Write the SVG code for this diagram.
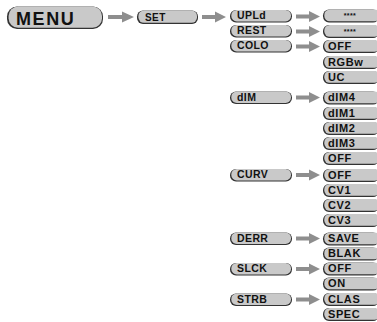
<svg xmlns="http://www.w3.org/2000/svg" xmlns:xlink="http://www.w3.org/1999/xlink" width="377" height="322" viewBox="0 0 377 322">
<style>
.sh{fill:#333}
.bx{fill:#c9c9c9}
.t{font-family:"Liberation Sans",Arial,sans-serif;font-weight:bold;fill:#111;font-size:10.5px;letter-spacing:0.4px}
.r{font-size:11px;letter-spacing:0.6px}
.ar{fill:#8e8e8e}
</style>
<defs>
<path id="arr" class="ar" d="M0,-2 H13 V-5.5 L24,0 L13,5.5 V2 H0 Z"/>
<g id="lb"><rect class="sh" x="0" y="-1" width="62" height="12.5" rx="6"/><rect class="bx" x="1.3" y="-1" width="59.7" height="11.4" rx="5.5"/></g>
<g id="rb"><rect class="sh" x="0" y="-1" width="56" height="13" rx="6"/><rect class="bx" x="1.3" y="-1" width="56" height="11.8" rx="5.5"/></g>
</defs>
<rect width="377" height="322" fill="#fff"/>
<g id="connectors">
<path class="ar" d="M108,15 H122 V11.5 L134,17 L122,22.5 V19 H108 Z"/>
<use href="#arr" x="202" y="17"/>
<use href="#arr" x="296" y="16.5"/>
<use href="#arr" x="296" y="31.5"/>
<use href="#arr" x="296" y="46.5"/>
<use href="#arr" x="296" y="97.5"/>
<use href="#arr" x="296" y="175"/>
<use href="#arr" x="296" y="238.5"/>
<use href="#arr" x="296" y="269"/>
<use href="#arr" x="296" y="299.5"/>
</g>
<g id="menu"><rect class="sh" x="7" y="6.5" width="96" height="22.5" rx="10"/><rect class="bx" x="8.6" y="6.5" width="93.4" height="21.2" rx="9.5"/><text class="t" x="16" y="25" style="font-size:18px;letter-spacing:1.6px">MENU</text></g>
<g id="set"><rect class="sh" x="137" y="10.5" width="61" height="13.5" rx="6"/><rect class="bx" x="138.4" y="10.5" width="58.6" height="12.3" rx="5.5"/><text class="t" x="145" y="20.5" style="font-size:10px">SET</text></g>
<g id="upld"><use href="#lb" x="230" y="11"/><text class="t" x="237" y="19">UPLd</text></g>
<g id="rest"><use href="#lb" x="230" y="26"/><text class="t" x="237" y="34">REST</text></g>
<g id="colo"><use href="#lb" x="230" y="41"/><text class="t" x="237" y="49">COLO</text></g>
<g id="dim"><use href="#lb" x="230" y="92.5"/><text class="t" x="237" y="100.5">dIM</text></g>
<g id="curv"><use href="#lb" x="230" y="170"/><text class="t" x="237" y="178">CURV</text></g>
<g id="derr"><use href="#lb" x="230" y="233.5"/><text class="t" x="237" y="241.5">DERR</text></g>
<g id="slck"><use href="#lb" x="230" y="264"/><text class="t" x="237" y="272">SLCK</text></g>
<g id="strb"><use href="#lb" x="230" y="294.5"/><text class="t" x="237" y="302.5">STRB</text></g>
<g id="upld-v"><use href="#rb" x="323" y="10.5"/><text class="t" x="350" y="18" text-anchor="middle" style="font-size:7px">****</text></g>
<g id="rest-v"><use href="#rb" x="323" y="26"/><text class="t" x="350" y="33.5" text-anchor="middle" style="font-size:7px">****</text></g>
<g id="colo-off"><use href="#rb" x="323" y="41"/><text class="t r" x="328" y="49.5">OFF</text></g>
<g id="colo-rgbw"><use href="#rb" x="323" y="57"/><text class="t r" x="328" y="65.5">RGBw</text></g>
<g id="colo-uc"><use href="#rb" x="323" y="72"/><text class="t r" x="328" y="80.5">UC</text></g>
<g id="dim4"><use href="#rb" x="323" y="92.5"/><text class="t r" x="328" y="101">dIM4</text></g>
<g id="dim1"><use href="#rb" x="323" y="108"/><text class="t r" x="328" y="116.5">dIM1</text></g>
<g id="dim2"><use href="#rb" x="323" y="123"/><text class="t r" x="328" y="131.5">dIM2</text></g>
<g id="dim3"><use href="#rb" x="323" y="138"/><text class="t r" x="328" y="146.5">dIM3</text></g>
<g id="dim-off"><use href="#rb" x="323" y="153"/><text class="t r" x="328" y="161.5">OFF</text></g>
<g id="curv-off"><use href="#rb" x="323" y="170"/><text class="t r" x="328" y="178.5">OFF</text></g>
<g id="cv1"><use href="#rb" x="323" y="185"/><text class="t r" x="328" y="193.5">CV1</text></g>
<g id="cv2"><use href="#rb" x="323" y="200"/><text class="t r" x="328" y="208.5">CV2</text></g>
<g id="cv3"><use href="#rb" x="323" y="215"/><text class="t r" x="328" y="223.5">CV3</text></g>
<g id="save"><use href="#rb" x="323" y="233.5"/><text class="t r" x="328" y="242">SAVE</text></g>
<g id="blak"><use href="#rb" x="323" y="248.5"/><text class="t r" x="328" y="257">BLAK</text></g>
<g id="slck-off"><use href="#rb" x="323" y="263.5"/><text class="t r" x="328" y="272">OFF</text></g>
<g id="slck-on"><use href="#rb" x="323" y="278.5"/><text class="t r" x="328" y="287">ON</text></g>
<g id="clas"><use href="#rb" x="323" y="294"/><text class="t r" x="328" y="302.5">CLAS</text></g>
<g id="spec"><use href="#rb" x="323" y="309"/><text class="t r" x="328" y="317.5">SPEC</text></g>
</svg>
